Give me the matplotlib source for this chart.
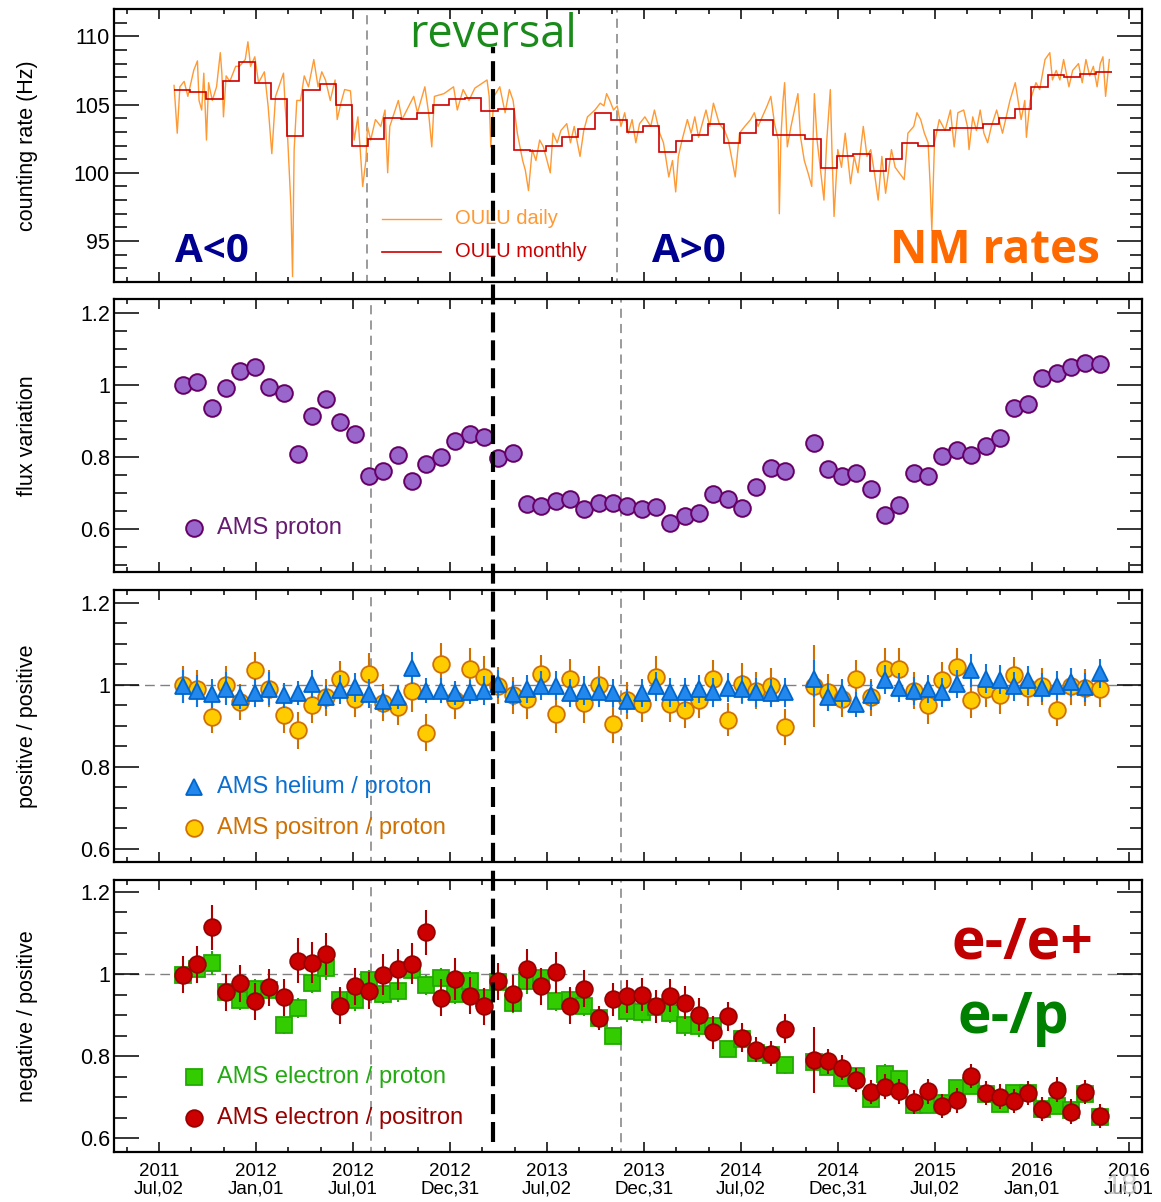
import numpy as np
import matplotlib
matplotlib.use('Agg')
import matplotlib.pyplot as plt
from matplotlib.ticker import MultipleLocator, FixedLocator
from matplotlib.lines import Line2D
import matplotlib.transforms as mtransforms

plt.rcParams['font.family'] = ['Liberation Sans', 'DejaVu Sans']

# ---------------- data (x = days after the 2011 Jul,02 tick) ----------------
oulu_day = [28, 34, 39, 47, 54, 65, 72, 75, 80, 84, 89, 93, 100, 108, 115, 118, 121, 126, 133, 144,
            151, 162, 167, 172, 180, 187, 198, 205, 212, 219, 234, 237, 242, 248, 251, 254, 259, 266, 273, 281,
            291, 299, 306, 313, 322, 331, 335, 342, 349, 360, 367, 374, 378, 383, 389, 392, 398, 407, 417, 425,
            430, 434, 450, 457, 479, 486, 500, 507, 513, 518, 536, 554, 561, 572, 583, 594, 617, 621, 624, 630,
            641, 651, 659, 666, 674, 684, 689, 695, 702, 709, 716, 723, 736, 741, 749, 756, 767, 774, 781,
            792, 799, 806, 820, 830, 837, 842, 848, 855, 862, 869, 876, 883, 890, 897, 904, 914, 925, 932, 942,
            949, 959, 966, 972, 977, 984, 994, 1001, 1008, 1015, 1029, 1036, 1043, 1054, 1064, 1071, 1084, 1092,
            1102, 1113, 1120, 1127, 1144, 1151, 1158, 1165, 1167, 1170, 1174, 1177, 1182, 1189, 1202, 1207, 1214,
            1221, 1228, 1233, 1238, 1251, 1256, 1263, 1266, 1270, 1277, 1284, 1291, 1301, 1308, 1315, 1325, 1332,
            1339, 1346, 1353, 1360, 1367, 1378, 1385, 1402, 1409, 1420, 1426, 1433, 1440, 1447, 1451, 1454, 1459,
            1468, 1479, 1489, 1496, 1503, 1514, 1521, 1524, 1531, 1538, 1545, 1552, 1559, 1566, 1576, 1587, 1594,
            1601, 1611, 1622, 1629, 1632, 1639, 1650, 1657, 1667, 1676, 1681, 1688, 1695, 1702, 1712, 1719, 1730,
            1737, 1744, 1751, 1758, 1765, 1771, 1776, 1781, 1788]
oulu_rate = [106.4, 102.9, 106.3, 106.7, 105.6, 107.5, 108.2, 105.3, 104.6, 107.3, 102.4, 106.6, 105.3, 106.3,
             108.8, 107.3, 104.1, 107.1, 106.7, 107.8, 107.8, 108.3, 109.6, 107.8, 108.5, 106.6, 107.4, 104.9,
             101.4, 105.6, 107.3, 104.9, 102.4, 97.5, 92.4, 101.7, 105.3, 105.3, 107.1, 106.3, 108.3, 106.3,
             107.4, 106.8, 105.3, 106.8, 103.9, 105.1, 106.1, 106.0, 102.4, 104.1, 101.9, 99.0, 100.9, 103.4,
             102.4, 103.9, 103.4, 104.6, 100.0, 103.4, 105.3, 103.9, 105.6, 104.4, 106.3, 104.4, 101.9, 105.6,
             105.8, 106.3, 104.6, 106.1, 105.3, 106.2, 106.8, 105.6, 101.9, 105.6, 106.3, 104.4, 106.1, 105.3,
             102.9, 100.9, 100.2, 98.7, 101.7, 100.9, 102.4, 101.9, 100.0, 102.9, 102.2, 103.1, 103.6, 102.2,
             103.4,
             101.2, 103.1, 104.1, 104.6, 105.1, 104.9, 105.8, 105.3, 104.6, 104.9, 103.4, 104.4, 102.9, 103.9,
             102.2, 103.6, 104.1, 103.4, 104.6, 102.9, 102.2, 99.7, 100.9, 98.6, 101.2, 102.4, 103.9, 102.9,
             104.1, 102.6, 104.6, 103.4, 105.1, 103.6, 103.1, 102.4, 99.7, 102.9, 103.4, 103.9, 104.4, 103.4,
             104.9, 105.6, 103.6, 102.4, 97.0, 102.6, 105.3, 106.6, 101.9, 103.4, 105.8, 102.6, 100.9, 100.0,
             99.0, 105.8, 102.4, 98.0, 102.2, 106.1, 101.7, 96.8, 101.7, 100.4, 102.9, 99.2, 101.2, 100.0,
             103.4, 101.2, 101.7, 100.0, 98.0, 101.2, 98.5, 101.7, 100.4, 99.5, 102.9, 103.4, 104.4, 103.9,
             102.9, 102.2, 99.0, 95.8, 102.2, 103.9, 103.1, 104.6, 101.9, 104.4, 104.6, 103.4, 101.7, 104.1,
             103.1, 104.6, 102.9, 102.2, 103.4, 104.6, 102.9, 104.1, 105.3, 106.6, 103.9, 105.3, 102.6, 105.3,
             106.6, 106.1, 108.3, 108.8, 106.8, 107.5, 106.8, 108.3, 106.3, 107.5, 108.0, 106.6, 108.3, 107.1,
             107.8, 106.3, 108.0, 108.5, 105.6, 108.3]

oulu_month_first = 28.0
oulu_month_days = 30.44
oulu_monthly = [106.1, 105.95, 105.4, 106.7, 108.1, 106.6, 105.4, 102.7, 106.1, 106.5,
                105.0, 102.0, 102.5, 104.0, 103.95, 104.4, 105.0, 105.4, 105.5, 104.5,
                104.7, 101.7, 101.6, 102.0, 102.6, 103.2, 104.4, 103.9, 103.0, 103.4,
                101.55, 102.3, 102.75, 103.6, 102.2, 102.9, 103.9, 102.75, 102.75, 102.45,
                100.35, 101.2, 101.4, 100.1, 101.0, 102.2, 101.95, 103.1, 103.3, 103.3,
                103.6, 104.0, 104.65, 106.3, 107.2, 107.05, 107.25, 107.35]

bartels_day = [45, 72, 99, 126, 153, 180, 207, 234, 261, 287, 314, 341, 368, 395, 422, 449, 476, 503, 530, 557,
               584, 611, 638, 665, 692, 719, 746, 773, 800, 827, 854, 881, 908, 935,
               962, 989, 1016, 1043, 1070, 1097, 1124, 1151, 1178, 1232, 1258, 1285, 1312, 1339, 1366, 1393,
               1420, 1447, 1474, 1501, 1528, 1555, 1582, 1609, 1635, 1662, 1689, 1716, 1743, 1770]

proton_flux = [1.000, 1.009, 0.936, 0.991, 1.039, 1.050, 0.995, 0.979, 0.807, 0.914, 0.962, 0.898, 0.864, 0.747,
               0.761, 0.806, 0.734, 0.780, 0.800, 0.844, 0.864, 0.856, 0.798, 0.810, 0.669, 0.663, 0.678, 0.683,
               0.655, 0.671, 0.673, 0.663, 0.654, 0.661,
               0.615, 0.635, 0.645, 0.697, 0.683, 0.657, 0.716, 0.769, 0.760, 0.839, 0.766, 0.748, 0.755, 0.710,
               0.639, 0.666, 0.754, 0.748, 0.803, 0.819, 0.805, 0.831, 0.853, 0.935, 0.947, 1.019, 1.034, 1.051,
               1.062, 1.057]

he_p = [0.996, 0.985, 0.978, 0.990, 0.970, 0.980, 0.990, 0.974, 0.980, 1.002, 0.970, 0.988, 0.994, 0.978,
        0.960, 0.970, 1.041, 0.986, 0.986, 0.980, 0.982, 0.986, 1.002, 0.978, 0.990, 0.998, 0.998, 0.980,
        0.986, 0.982, 0.980, 0.960, 0.980, 0.996,
        0.982, 0.982, 0.990, 0.982, 0.993, 0.990, 0.982, 0.980, 0.982, 1.015, 0.970, 0.980, 0.952, 0.974,
        1.012, 0.993, 0.985, 0.990, 0.982, 1.002, 1.035, 1.015, 1.012, 0.996, 1.011, 0.993, 0.998, 1.006,
        0.994, 1.028]
he_p_err = [0.04, 0.04, 0.035, 0.04, 0.03, 0.035, 0.04, 0.03, 0.03, 0.035, 0.03, 0.035, 0.035, 0.035,
            0.03, 0.03, 0.04, 0.03, 0.03, 0.03, 0.03, 0.035, 0.035, 0.03, 0.035, 0.035, 0.035, 0.035,
            0.035, 0.035, 0.035, 0.03, 0.035, 0.035,
            0.035, 0.035, 0.035, 0.035, 0.035, 0.035, 0.035, 0.035, 0.035, 0.045, 0.035, 0.035, 0.03, 0.035,
            0.035, 0.035, 0.035, 0.035, 0.035, 0.035, 0.04, 0.035, 0.035, 0.035, 0.035, 0.035, 0.035, 0.035,
            0.035, 0.035]

pos_p = [1.000, 0.990, 0.922, 1.000, 0.958, 1.035, 0.990, 0.927, 0.889, 0.951, 0.970, 1.013, 0.966, 1.027,
         0.956, 0.946, 0.984, 0.883, 1.051, 0.962, 1.039, 1.019, 0.998, 0.974, 0.966, 1.027, 0.928, 1.014,
         0.956, 1.000, 0.904, 0.962, 0.954, 1.019,
         0.954, 0.939, 0.964, 1.015, 0.915, 1.002, 0.986, 0.996, 0.897, 0.998, 0.982, 0.966, 1.015, 0.970,
         1.039, 1.039, 0.986, 0.950, 1.011, 1.044, 0.964, 0.990, 0.974, 1.023, 0.993, 0.996, 0.939, 0.996,
         0.993, 0.990]
pos_p_err = [0.045, 0.045, 0.04, 0.045, 0.045, 0.045, 0.045, 0.045, 0.045, 0.045, 0.045, 0.045, 0.045, 0.05,
             0.045, 0.045, 0.05, 0.045, 0.05, 0.045, 0.05, 0.05, 0.045, 0.045, 0.05, 0.045, 0.045, 0.05,
             0.05, 0.045, 0.045, 0.045, 0.045, 0.05,
             0.045, 0.045, 0.045, 0.045, 0.04, 0.05, 0.045, 0.045, 0.045, 0.10, 0.045, 0.045, 0.045, 0.045,
             0.05, 0.05, 0.045, 0.045, 0.045, 0.045, 0.045, 0.045, 0.045, 0.045, 0.045, 0.045, 0.04, 0.045,
             0.045, 0.045]

el_p = [0.998, 1.012, 1.027, 0.956, 0.938, 0.964, 0.962, 0.875, 0.918, 0.978, 1.015, 0.938, 0.936, 0.986,
        0.952, 0.958, 1.011, 0.974, 0.990, 0.952, 0.982, 0.942, 0.980, 0.930, 0.982, 0.990, 0.934, 0.936,
        0.922, 0.893, 0.849, 0.909, 0.907, 0.920,
        0.905, 0.875, 0.873, 0.873, 0.818, 0.842, 0.808, 0.804, 0.778, 0.786, 0.774, 0.748, 0.752, 0.697,
        0.756, 0.744, 0.681, 0.681, 0.687, 0.723, 0.727, 0.707, 0.685, 0.710, 0.710, 0.671, 0.679, 0.669,
        0.707, 0.651]
el_p_err = [0.025, 0.025, 0.03, 0.025, 0.025, 0.025, 0.025, 0.02, 0.025, 0.025, 0.03, 0.025, 0.025, 0.025,
            0.025, 0.025, 0.025, 0.025, 0.025, 0.025, 0.025, 0.025, 0.025, 0.025, 0.03, 0.025, 0.025, 0.025,
            0.025, 0.025, 0.02, 0.025, 0.025, 0.025,
            0.025, 0.025, 0.025, 0.025, 0.02, 0.025, 0.02, 0.02, 0.02, 0.025, 0.02, 0.02, 0.02, 0.02,
            0.025, 0.02, 0.02, 0.02, 0.02, 0.02, 0.02, 0.02, 0.02, 0.02, 0.02, 0.02, 0.02, 0.02,
            0.02, 0.02]

el_pos = [0.998, 1.024, 1.114, 0.956, 0.978, 0.934, 0.968, 0.944, 1.033, 1.028, 1.049, 0.923, 0.970, 0.960,
          0.998, 1.012, 1.025, 1.102, 0.942, 0.988, 0.947, 0.922, 0.982, 0.952, 1.012, 0.970, 1.004, 0.923,
          0.964, 0.893, 0.939, 0.946, 0.950, 0.922,
          0.947, 0.930, 0.901, 0.858, 0.897, 0.845, 0.816, 0.806, 0.867, 0.791, 0.788, 0.772, 0.742, 0.713,
          0.726, 0.715, 0.689, 0.715, 0.679, 0.693, 0.752, 0.711, 0.702, 0.691, 0.711, 0.672, 0.719, 0.665,
          0.713, 0.655]
el_pos_err = [0.045, 0.045, 0.055, 0.045, 0.045, 0.045, 0.045, 0.045, 0.055, 0.05, 0.05, 0.045, 0.045, 0.045,
              0.05, 0.05, 0.05, 0.055, 0.045, 0.05, 0.045, 0.045, 0.045, 0.045, 0.05, 0.045, 0.05, 0.045,
              0.045, 0.03, 0.04, 0.04, 0.04, 0.04,
              0.04, 0.04, 0.04, 0.04, 0.035, 0.035, 0.03, 0.03, 0.035, 0.08, 0.03, 0.03, 0.03, 0.03,
              0.03, 0.03, 0.03, 0.03, 0.03, 0.03, 0.03, 0.03, 0.03, 0.03, 0.03, 0.03, 0.03, 0.03,
              0.03, 0.03]

tick_days = [0, 182.5, 365, 547.5, 730, 912.5, 1095, 1277.5, 1460, 1642.5, 1825]
tick_labels = ['2011\nJul,02', '2012\nJan,01', '2012\nJul,01', '2012\nDec,31', '2013\nJul,02',
               '2013\nDec,31', '2014\nJul,02', '2014\nDec,31', '2015\nJul,02', '2016\nJan,01',
               '2016\nJul,01']
reversal_day = 628
box_nm = (391, 862)
box_ams = (399, 869)

# ---------------- figure ----------------
W, H = 1161, 1202
fig = plt.figure(figsize=(W / 100, H / 100), dpi=100)

def px_axes(top, bottom, left=114, right=1142):
    return fig.add_axes([left / W, 1 - bottom / H, (right - left) / W, (bottom - top) / H])

ax1 = px_axes(9, 282)
ax2 = px_axes(299, 572)
ax3 = px_axes(590, 862)
ax4 = px_axes(880, 1152)
axes = [ax1, ax2, ax3, ax4]

xlim = (-85, 1849.5)
for ax in axes:
    ax.set_xlim(*xlim)
    for s in ax.spines.values():
        s.set_linewidth(1.6)
    ax.xaxis.set_major_locator(FixedLocator(tick_days))
    ax.xaxis.set_minor_locator(MultipleLocator(182.5 / 3))
    ax.tick_params(axis='both', which='both', direction='in', top=True, right=True, width=1.1)
    ax.tick_params(axis='y', which='major', length=18, labelsize=15.5, pad=3)
    ax.tick_params(axis='y', which='minor', length=9)
    ax.tick_params(axis='x', which='major', length=7)
    ax.tick_params(axis='x', which='minor', length=3.6)
    ax.yaxis.set_label_coords(-0.074, 0.5)
    if ax is not ax4:
        ax.tick_params(axis='x', labelbottom=False)

ax4.set_xticklabels(tick_labels, fontsize=13.5, linespacing=1.05)
ax4.tick_params(axis='x', which='major', pad=8)

# ---- panel 1 : neutron monitor ----
ax1.set_ylim(92.0, 112.0)
ax1.yaxis.set_major_locator(FixedLocator([95, 100, 105, 110]))
ax1.yaxis.set_minor_locator(MultipleLocator(1))
ax1.set_ylabel('counting rate (Hz)', fontsize=15.5)
ax1.plot(oulu_day, oulu_rate, color='#ff9933', lw=1.0, zorder=3)
edges = oulu_month_first + oulu_month_days * np.arange(len(oulu_monthly) + 1)
ax1.stairs(oulu_monthly, edges, color='#cc0000', lw=1.2, baseline=None, zorder=4)
ax1.axvspan(*box_nm, fill=False, edgecolor='#808080', linestyle=(0, (6, 4)), lw=1.1, zorder=2)

ax1.plot([0.2607, 0.3181], [0.231, 0.231], transform=ax1.transAxes, color='#ff9933', lw=1.0)
ax1.text(0.3317, 0.231, 'OULU daily', transform=ax1.transAxes, color='#ff9933', fontsize=14.5, va='center')
ax1.plot([0.2607, 0.3181], [0.110, 0.110], transform=ax1.transAxes, color='#cc0000', lw=1.2)
ax1.text(0.3317, 0.110, 'OULU monthly', transform=ax1.transAxes, color='#cc0000', fontsize=14.5, va='center')

big = dict(family=['Open Sans', 'DejaVu Sans'], fontweight='bold', transform=ax1.transAxes,
           ha='center', va='baseline')
ax1.text(0.0948, 0.073, 'A<0', color='#000090', fontsize=29, **big)
ax1.text(0.559, 0.073, 'A>0', color='#000090', fontsize=29, **big)
ax1.text(0.857, 0.070, 'NM rates', color='#ff6a00', fontsize=33, **big)
ax1.text(0.369, 0.861, 'reversal', color='#1a8a1a', fontsize=32.5, family=['Open Sans', 'DejaVu Sans'],
         transform=ax1.transAxes, ha='center', va='baseline')

# ---- panel 2 : proton flux ----
ax2.set_ylim(0.480, 1.239)
ax2.set_ylabel('flux variation', fontsize=15.5)
ax2.plot(bartels_day, proton_flux, 'o', ms=12, mfc='#9966cc', mec='#660066', mew=1.4, zorder=4)
ax2.axvspan(*box_ams, fill=False, edgecolor='#808080', linestyle=(0, (6, 4)), lw=1.1, zorder=2)
ax2.plot([0.0778], [0.161], 'o', ms=12, mfc='#9966cc', mec='#660066', mew=1.4, transform=ax2.transAxes)
ax2.text(0.1002, 0.161, 'AMS proton', color='#661a70', fontsize=17, va='center', transform=ax2.transAxes)

# ---- panel 3 : positive / positive ----
ax3.set_ylim(0.568, 1.231)
ax3.axhline(1.0, color='#808080', lw=1.0, ls=(0, (7, 4)), zorder=1)
ax3.errorbar(bartels_day, pos_p, yerr=pos_p_err, fmt='o', ms=12, mfc='#ffcc00', mec='#d07000', mew=1.3,
             ecolor='#d07000', elinewidth=1.5, capsize=0, zorder=3)
ax3.errorbar(bartels_day, he_p, yerr=he_p_err, fmt='^', ms=12, mfc='#2288ee', mec='#0066cc', mew=1.3,
             ecolor='#1177dd', elinewidth=1.5, capsize=0, zorder=4)
ax3.set_ylabel('positive / positive', fontsize=15.5)
ax3.axvspan(*box_ams, fill=False, edgecolor='#808080', linestyle=(0, (6, 4)), lw=1.1, zorder=2)
ax3.plot([0.0778], [0.276], '^', ms=12, mfc='#2288ee', mec='#0066cc', mew=1.3, transform=ax3.transAxes)
ax3.text(0.1002, 0.276, 'AMS helium / proton', color='#0a6fd0', fontsize=17, va='center',
         transform=ax3.transAxes)
ax3.plot([0.0778], [0.125], 'o', ms=12, mfc='#ffcc00', mec='#d07000', mew=1.3, transform=ax3.transAxes)
ax3.text(0.1002, 0.125, 'AMS positron / proton', color='#d07000', fontsize=17, va='center',
         transform=ax3.transAxes)

# ---- panel 4 : negative / positive ----
ax4.set_ylim(0.567, 1.229)
ax4.axhline(1.0, color='#808080', lw=1.0, ls=(0, (7, 4)), zorder=1)
ax4.errorbar(bartels_day, el_p, yerr=el_p_err, fmt='s', ms=11.5, mfc='#33cc00', mec='#22aa00', mew=1.3,
             ecolor='#22aa00', elinewidth=1.5, capsize=0, zorder=3)
ax4.errorbar(bartels_day, el_pos, yerr=el_pos_err, fmt='o', ms=12, mfc='#cc0000', mec='#990000', mew=1.3,
             ecolor='#aa0000', elinewidth=1.5, capsize=0, zorder=4)
ax4.set_ylabel('negative / positive', fontsize=15.5)
ax4.axvspan(*box_ams, fill=False, edgecolor='#808080', linestyle=(0, (6, 4)), lw=1.1, zorder=2)
ax4.plot([0.0778], [0.276], 's', ms=11.5, mfc='#33cc00', mec='#22aa00', mew=1.3, transform=ax4.transAxes)
ax4.text(0.1002, 0.276, 'AMS electron / proton', color='#22aa11', fontsize=17, va='center',
         transform=ax4.transAxes)
ax4.plot([0.0778], [0.125], 'o', ms=12, mfc='#cc0000', mec='#990000', mew=1.3, transform=ax4.transAxes)
ax4.text(0.1002, 0.125, 'AMS electron / positron', color='#990000', fontsize=17, va='center',
         transform=ax4.transAxes)
big4 = dict(family=['Open Sans', 'DejaVu Sans'], fontweight='bold', transform=ax4.transAxes,
            ha='center', va='baseline', fontsize=41)
ax4.text(0.884, 0.713, 'e-/e+', color='#c00000', **big4)
ax4.text(0.875, 0.4375, 'e-/p', color='#008000', **big4)

for ax in (ax2, ax3, ax4):
    ax.yaxis.set_major_locator(FixedLocator([0.6, 0.8, 1.0, 1.2]))
    ax.yaxis.set_minor_locator(MultipleLocator(0.05))
    ax.set_yticklabels(['0.6', '0.8', '1', '1.2'])

# field reversal line running through all panels
trans = mtransforms.blended_transform_factory(ax4.transData, fig.transFigure)
fig.add_artist(Line2D([reversal_day, reversal_day], [1 - 1142 / H, 1 - 47 / H], transform=trans,
                      color='black', lw=3.0, dashes=(4.8, 1.9), zorder=10))

# faint slide number in the corner
fig.text(1122 / W, 1 - 1186 / H, '18', color='#c4c4c4', fontsize=21, ha='center', va='center', alpha=0.8)

fig.savefig('out.png', dpi=100)
